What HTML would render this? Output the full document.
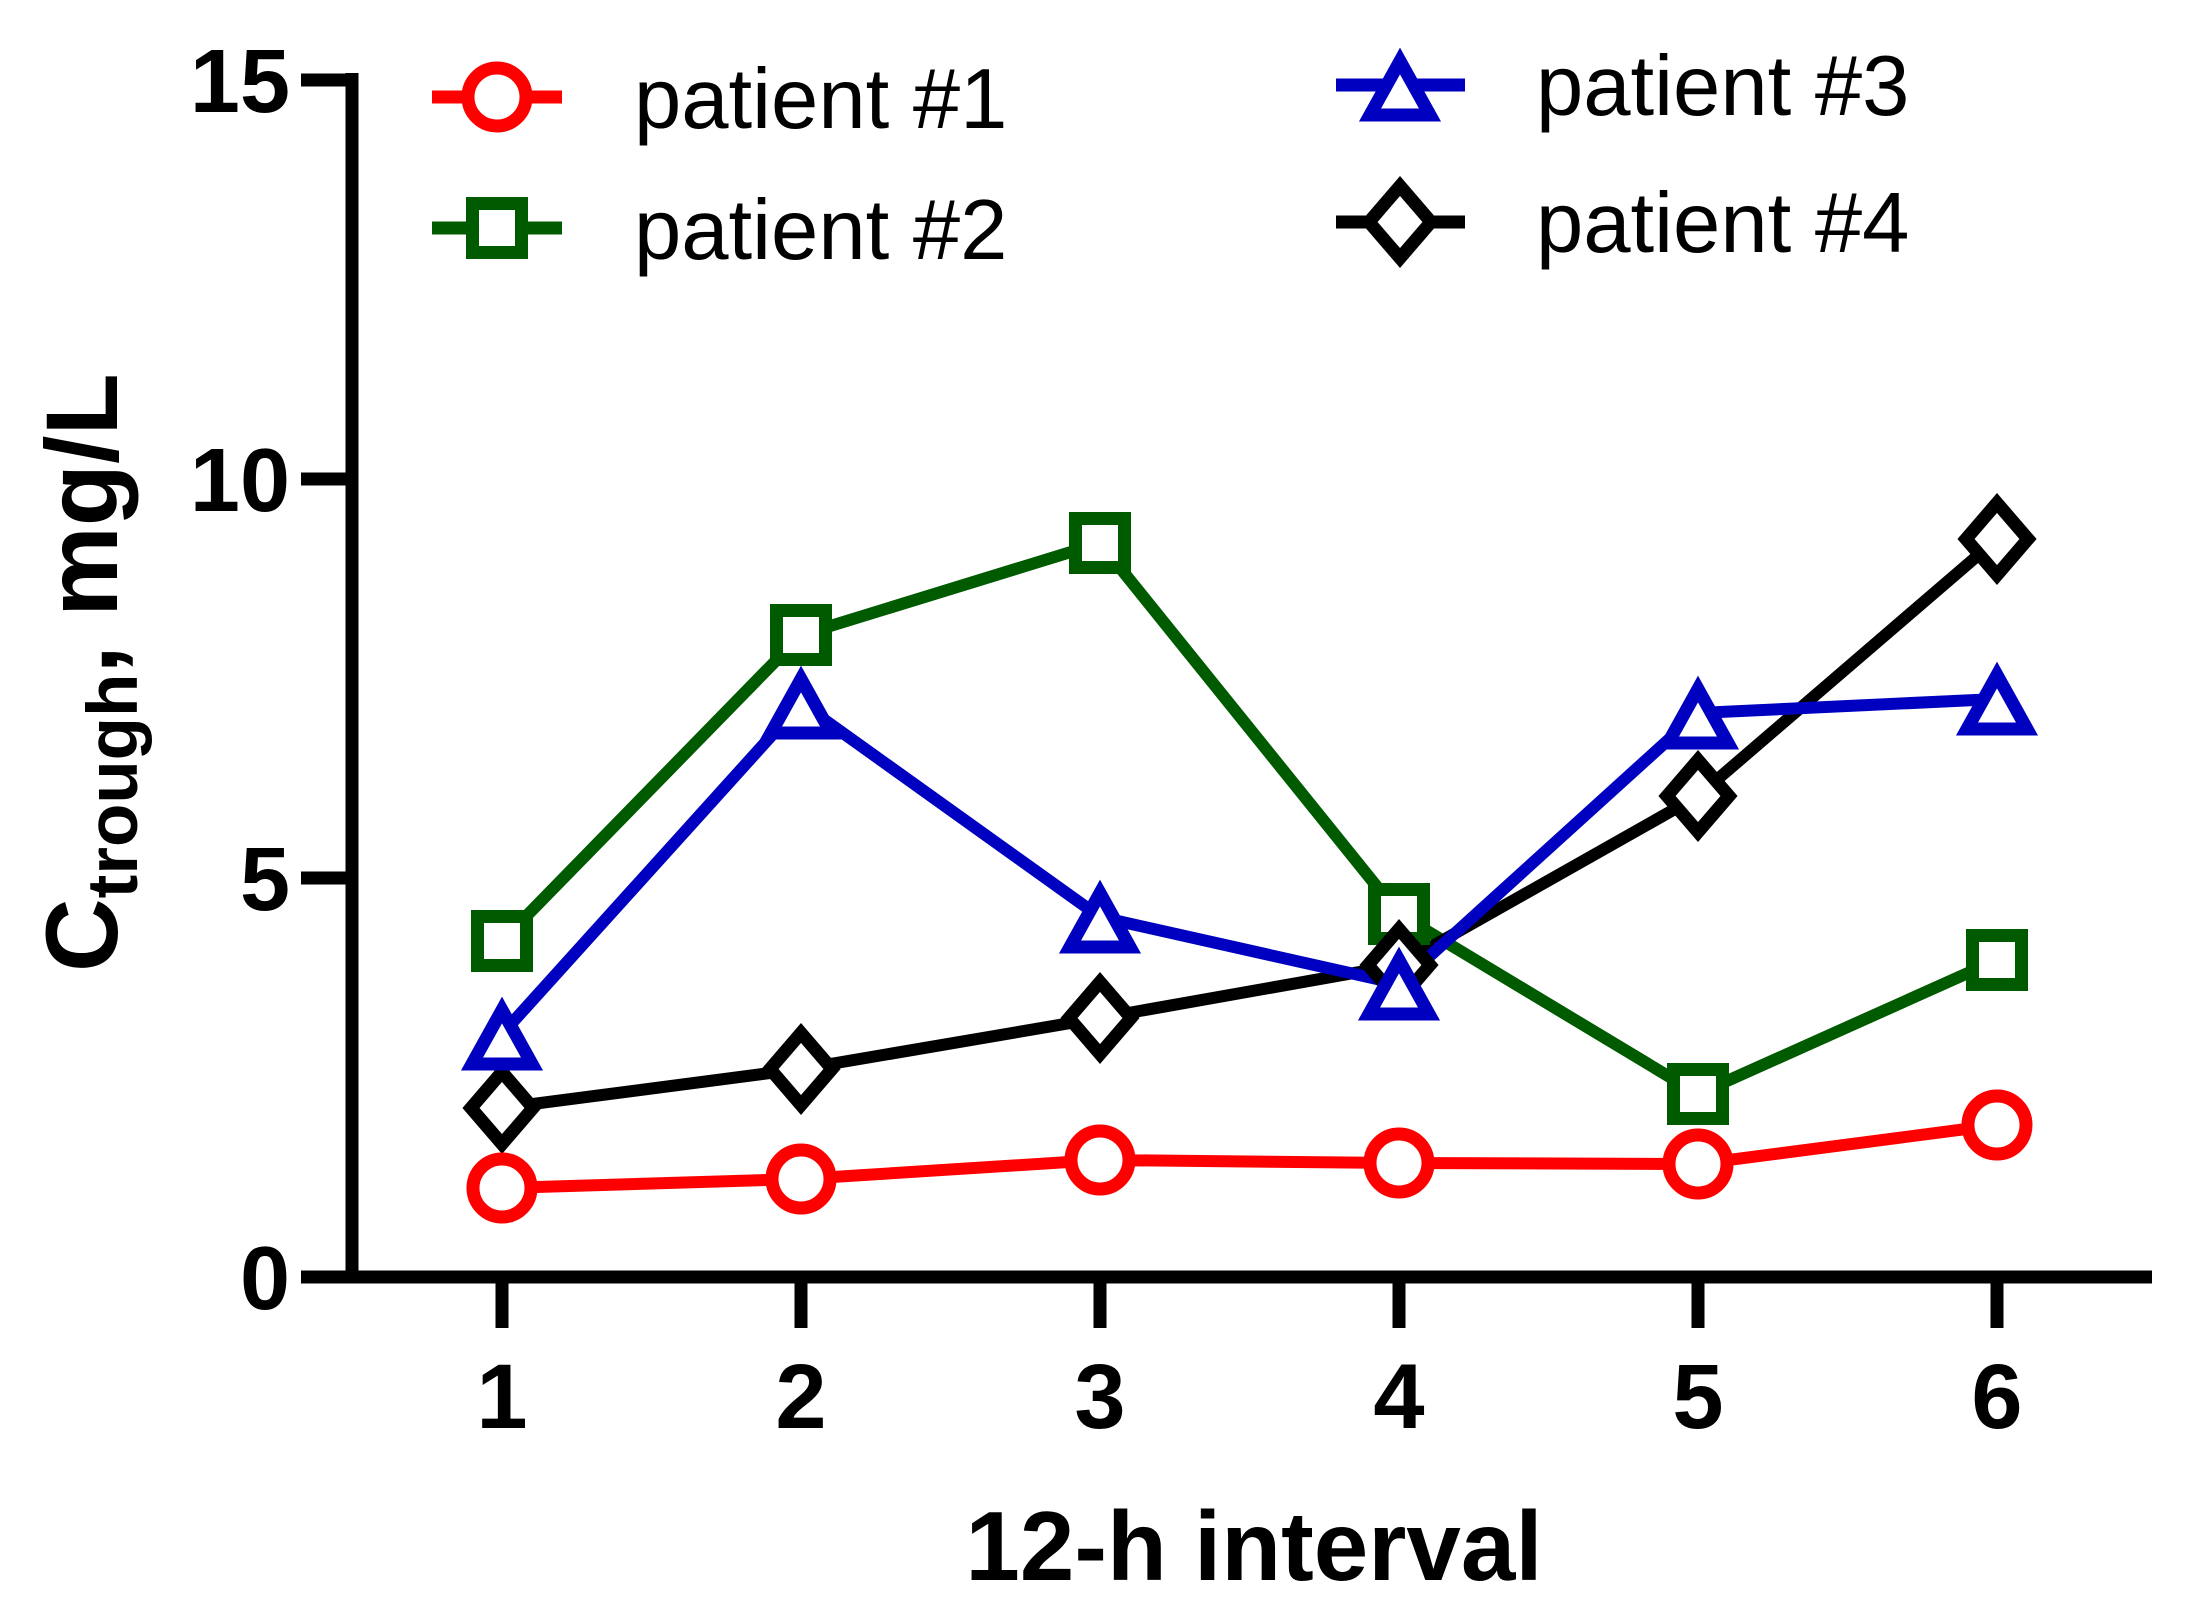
<!DOCTYPE html>
<html><head><meta charset="utf-8"><style>
html,body{margin:0;padding:0;background:#fff}
svg{display:block}
text{font-family:"Liberation Sans",Arial,sans-serif}
</style></head><body>
<svg width="2205" height="1611" viewBox="0 0 2205 1611" xmlns="http://www.w3.org/2000/svg">
<defs>
<circle id="mc" r="29" fill="#fff" stroke="#ff0000" stroke-width="13"/>
<rect id="ms" x="-24.5" y="-24.5" width="49" height="49" fill="#fff" stroke="#005a00" stroke-width="13"/>
<polygon id="mt" points="0,-24 -30,30 30,30" fill="#fff" stroke="#0000c0" stroke-width="13"/>
<polygon id="md" points="0,-36 31,0 0,36 -31,0" fill="#fff" stroke="#000" stroke-width="13"/>
</defs>
<g stroke="#000" stroke-width="13" fill="none">
<line x1="352" y1="73" x2="352" y2="1283"/>
<line x1="301" y1="1277" x2="2152" y2="1277"/>
<line x1="301" y1="80" x2="358" y2="80"/>
<line x1="301" y1="479" x2="358" y2="479"/>
<line x1="301" y1="878" x2="358" y2="878"/>
<line x1="502" y1="1277" x2="502" y2="1328"/>
<line x1="801" y1="1277" x2="801" y2="1328"/>
<line x1="1100" y1="1277" x2="1100" y2="1328"/>
<line x1="1399" y1="1277" x2="1399" y2="1328"/>
<line x1="1698" y1="1277" x2="1698" y2="1328"/>
<line x1="1997" y1="1277" x2="1997" y2="1328"/>
</g>
<g font-size="90" font-weight="bold" text-anchor="end">
<text x="290" y="112">15</text>
<text x="290" y="511">10</text>
<text x="290" y="910">5</text>
<text x="290" y="1309">0</text>
</g>
<g font-size="92" font-weight="bold" text-anchor="middle">
<text x="502" y="1428">1</text>
<text x="801" y="1428">2</text>
<text x="1100" y="1428">3</text>
<text x="1399" y="1428">4</text>
<text x="1698" y="1428">5</text>
<text x="1997" y="1428">6</text>
</g>
<text x="1254" y="1580" font-size="98" font-weight="bold" text-anchor="middle">12-h interval</text>
<text transform="translate(117,972) rotate(-90)" font-weight="bold" font-size="102">C<tspan font-size="71" dy="20">trough</tspan><tspan dy="-20">, mg/L</tspan></text>
<g fill="none" stroke-width="12">
<polyline stroke="#005a00" points="502,941 801,635 1100,543 1399,914 1698,1094 1997,960"/>
<polyline stroke="#000" points="502,1108 801,1069 1100,1018 1399,965 1698,796 1997,539"/>
<polyline stroke="#0000c0" points="502,1034 801,703 1100,917 1399,984 1698,713 1997,699"/>
<polyline stroke="#ff0000" points="502,1188 801,1179 1100,1160 1399,1163 1698,1164 1997,1125"/>
</g>
<use href="#ms" x="502" y="941"/><use href="#ms" x="801" y="635"/><use href="#ms" x="1100" y="543"/><use href="#ms" x="1399" y="914"/><use href="#ms" x="1698" y="1094"/><use href="#ms" x="1997" y="960"/>
<use href="#md" x="502" y="1108"/><use href="#md" x="801" y="1069"/><use href="#md" x="1100" y="1018"/><use href="#md" x="1399" y="965"/><use href="#md" x="1698" y="796"/><use href="#md" x="1997" y="539"/>
<use href="#mt" x="502" y="1034"/><use href="#mt" x="801" y="703"/><use href="#mt" x="1100" y="917"/><use href="#mt" x="1399" y="984"/><use href="#mt" x="1698" y="713"/><use href="#mt" x="1997" y="699"/>
<use href="#mc" x="502" y="1188"/><use href="#mc" x="801" y="1179"/><use href="#mc" x="1100" y="1160"/><use href="#mc" x="1399" y="1163"/><use href="#mc" x="1698" y="1164"/><use href="#mc" x="1997" y="1125"/>
<g stroke-width="13">
<line x1="432" y1="97" x2="562" y2="97" stroke="#ff0000"/>
<line x1="432" y1="228" x2="562" y2="228" stroke="#005a00"/>
<line x1="1336" y1="85" x2="1465" y2="85" stroke="#0000c0"/>
<line x1="1336" y1="222" x2="1465" y2="222" stroke="#000"/>
</g>
<use href="#mc" x="497" y="97"/>
<use href="#ms" x="497" y="228"/>
<use href="#mt" x="1400" y="85"/>
<use href="#md" x="1400" y="222"/>
<g font-size="85">
<text x="634" y="128">patient #1</text>
<text x="634" y="259">patient #2</text>
<text x="1536" y="115">patient #3</text>
<text x="1536" y="252">patient #4</text>
</g>
</svg>
</body></html>
